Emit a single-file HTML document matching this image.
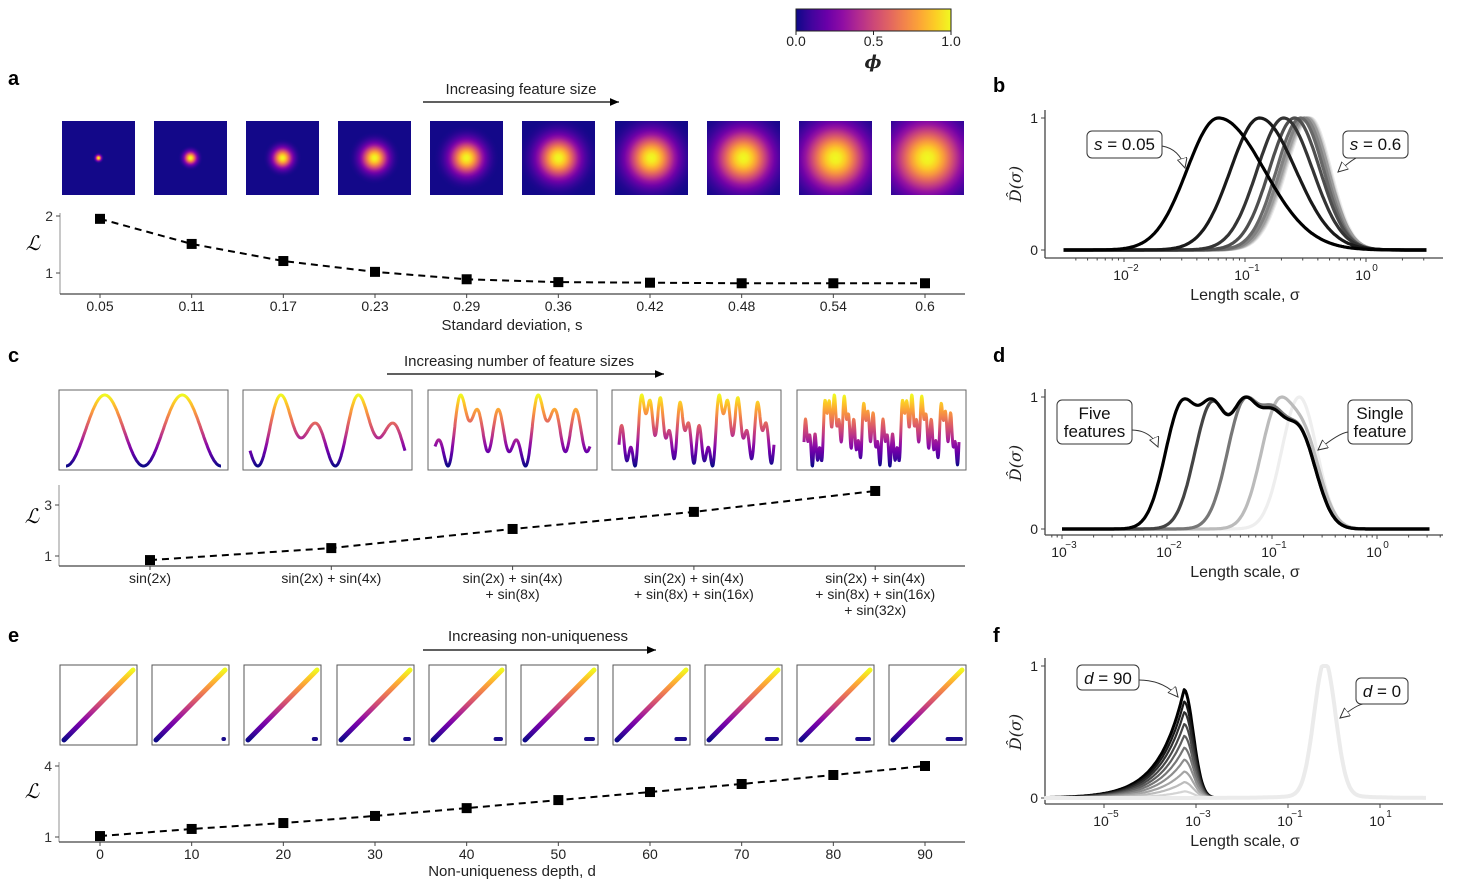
<!DOCTYPE html>
<html><head><meta charset="utf-8"><style>
html,body{margin:0;padding:0;background:#fff;}
svg{display:block;font-family:"Liberation Sans",sans-serif;}
</style></head><body>
<svg id="fig" width="1461" height="889" viewBox="0 0 1461 889" xmlns="http://www.w3.org/2000/svg">
<defs>
<linearGradient id="cbar" x1="0" x2="1" y1="0" y2="0">
<stop offset="0" stop-color="#0d0887"/><stop offset="0.1" stop-color="#41049d"/><stop offset="0.2" stop-color="#6a00a8"/><stop offset="0.3" stop-color="#8f0da4"/><stop offset="0.4" stop-color="#b12a90"/><stop offset="0.5" stop-color="#cc4778"/><stop offset="0.6" stop-color="#e16462"/><stop offset="0.7" stop-color="#f2844b"/><stop offset="0.8" stop-color="#fca636"/><stop offset="0.9" stop-color="#fcce25"/><stop offset="1" stop-color="#f0f921"/>
</linearGradient>
<marker id="arr" markerWidth="8" markerHeight="8" refX="7" refY="3" orient="auto"><path d="M0,0 L7,3 L0,6 z" fill="#000"/></marker>
<marker id="harr" markerWidth="12" markerHeight="12" refX="10" refY="5" orient="auto"><path d="M0,0 L10,5 L0,10 z" fill="#fff" stroke="#333" stroke-width="1"/></marker>
</defs>
<g id="root"></g>
</svg>
<script>
// ---------- data ----------
const aCats = ["0.05","0.11","0.17","0.23","0.29","0.36","0.42","0.48","0.54","0.6"];
const aVals = [1.95,1.51,1.21,1.02,0.89,0.84,0.83,0.82,0.82,0.82];
const aSigma = [0.05,0.11,0.17,0.23,0.29,0.36,0.42,0.48,0.54,0.6];
const aYTicks = [1,2];
const cCats = [["sin(2x)"],["sin(2x) + sin(4x)"],["sin(2x) + sin(4x)","+ sin(8x)"],["sin(2x) + sin(4x)","+ sin(8x) + sin(16x)"],["sin(2x) + sin(4x)","+ sin(8x) + sin(16x)","+ sin(32x)"]];
const cVals = [0.84,1.31,2.06,2.73,3.55];
const cYTicks = [1,3];
const eCats = [0,10,20,30,40,50,60,70,80,90];
const eVals = [1.04,1.34,1.59,1.89,2.22,2.56,2.9,3.24,3.62,4.0];
const eYTicks = [1,4];
// panel b: peak (log10 sigma), left/right widths (decades)
const bPeaks = [-1.22,-0.88,-0.68,-0.59,-0.54,-0.51,-0.49,-0.48,-0.47,-0.46];
const bLeftW = [0.26,0.24,0.22,0.21,0.2,0.2,0.2,0.2,0.2,0.2];
const bRightW = [0.38,0.3,0.24,0.21,0.19,0.18,0.18,0.17,0.17,0.17];
// panel d: component peaks (log10 sigma) and heights per curve, five features first
const dPeaks = [[-1.85,-1.57,-1.26,-1.0,-0.75],[-1.57,-1.26,-1.0,-0.75],[-1.26,-1.0,-0.75],[-0.94,-0.72],[-0.74]];
const dHeights = [[1,0.99,1,0.88,0.78],[1,1,0.88,0.78],[1,0.9,0.78],[1,0.8],[1]];
// panel f: left-peak heights for d = 90..0
const fHeights = [0.82,0.73,0.65,0.56,0.47,0.38,0.29,0.2,0.12,0.05,0];
const fLeftPeak = -3.26, fRightPeak = -0.2;

const NS="http://www.w3.org/2000/svg";
const root=document.getElementById('root');
function mk(tag,attrs,parent){const e=document.createElementNS(NS,tag);for(const k in attrs)e.setAttribute(k,attrs[k]);(parent||root).appendChild(e);return e;}
function nm(e,n,i){


return e;}
function txt(x,y,s,opt,parent){const o=Object.assign({x:x,y:y,'font-size':14,'text-anchor':'middle',fill:'#222'},opt||{});const t=mk('text',o,parent);t.textContent=s;return t;}
const plasma=["#0d0887","#41049d","#6a00a8","#8f0da4","#b12a90","#cc4778","#e16462","#f2844b","#fca636","#fcce25","#f0f921"];
function hex(c){return [parseInt(c.substr(1,2),16),parseInt(c.substr(3,2),16),parseInt(c.substr(5,2),16)];}
function pl(v){v=Math.max(0,Math.min(1,v));const f=v*10,i=Math.min(9,Math.floor(f)),t=f-i;const a=hex(plasma[i]),b=hex(plasma[i+1]);return 'rgb('+a.map((x,k)=>Math.round(x+(b[k]-x)*t)).join(',')+')';}
const defs=document.querySelector('defs');
function vgrad(id,y1,y2){const g=mk('linearGradient',{id:id,x1:0,x2:0,y1:y1,y2:y2,gradientUnits:'userSpaceOnUse'},defs);plasma.forEach((c,i)=>mk('stop',{offset:i/10,'stop-color':c},g));}

// ---------- colorbar ----------
const cb=nm(mk('g',{}),'colorbar');
nm(mk('rect',{x:796,y:9,width:155,height:22,fill:'url(#cbar)',stroke:'#222','stroke-width':1},cb),'colorbar-gradient');
[[0,'0.0'],[0.5,'0.5'],[1,'1.0']].forEach(([v,l])=>{const x=796+155*v;mk('line',{x1:x,x2:x,y1:31,y2:35,stroke:'#222'},cb);nm(txt(x,46,l,{},cb),'colorbar-tick-label');});
nm(txt(873,68,'ϕ',{'font-size':18,'font-style':'italic','font-weight':'bold','font-family':'"DejaVu Serif",serif'},cb),'colorbar-title');

// panel letters
[['a',8,85],['b',993,92],['c',8,362],['d',993,362],['e',8,642],['f',993,642]].forEach(([l,x,y])=>nm(txt(x,y,l,{'font-size':20,'font-weight':'bold','text-anchor':'start',fill:'#000'}),'panel-label-'+l));

function arrowTitle(cx,ty,s,x1,x2,ay,name){const g=nm(mk('g',{}),name);txt(cx,ty,s,{'font-size':15},g);mk('line',{x1:x1,x2:x2,y1:ay,y2:ay,stroke:'#000','stroke-width':1.3,'marker-end':'url(#arr)'},g);}
arrowTitle(521,94,'Increasing feature size',423,619,102,'feature-size-arrow');
arrowTitle(519,366,'Increasing number of feature sizes',387,664,374,'feature-count-arrow');
arrowTitle(538,641,'Increasing non-uniqueness',423,656,650,'non-uniqueness-arrow');

// ---------- panel a images ----------
const aImgX=[62,154,246,338,430,522,615,707,799,891];
aSigma.forEach((s,i)=>{
 const gid='rg'+i;const g=mk('radialGradient',{id:gid,cx:0.5,cy:0.5,r:Math.min(3*s*37/73,3),gradientUnits:'objectBoundingBox'},defs);
 for(let k=0;k<=12;k++){const t=k/12;const v=Math.exp(-(t*3)*(t*3)/2);mk('stop',{offset:t,'stop-color':pl(v)},g);}
 nm(mk('rect',{x:aImgX[i],y:121,width:73,height:74,fill:'url(#'+gid+')'}),'gaussian-image-'+i);
});

// ---------- line-plot helper ----------
function linePlot(o){
 const g=nm(mk('g',{}),o.name);
 const ys=v=>o.y1+(v-o.v1)*(o.y2-o.y1)/(o.v2-o.v1);
 mk('line',{x1:o.ax,x2:o.ax,y1:o.top,y2:o.base,stroke:'#aaa','stroke-width':1.3},g);
 mk('line',{x1:o.ax,x2:o.right,y1:o.base,y2:o.base,stroke:'#444','stroke-width':1.3},g);
 o.yticks.forEach(t=>{const y=ys(t);mk('line',{x1:o.ax-4,x2:o.ax,y1:y,y2:y,stroke:'#444'},g);nm(txt(o.ax-7,y+5,String(t),{'text-anchor':'end',fill:'#333'},g),'y-tick-label');});
 const pts=o.vals.map((v,i)=>[o.xs(i),ys(v)]);
 nm(mk('path',{d:'M'+pts.map(p=>p.join(',')).join(' L'),fill:'none',stroke:'#000','stroke-width':2,'stroke-dasharray':'7,5'},g),'loss-line');
 pts.forEach((p,i)=>{const r=mk('rect',{x:p[0]-5,y:p[1]-5,width:10,height:10,fill:'#000'},g);
 
 });
 o.cats.forEach((c,i)=>{const lines=Array.isArray(c)?c:[String(c)];lines.forEach((l,k)=>nm(txt(o.xs(i),o.base+17+16*k,l,{fill:'#222'},g),'x-tick-label'));mk('line',{x1:o.xs(i),x2:o.xs(i),y1:o.base,y2:o.base+4,stroke:'#444'},g);});
 nm(txt(o.ax-27,o.ly,'ℒ',{'font-size':20,'font-style':'italic','font-family':'"DejaVu Serif",serif',fill:'#000'},g),'y-axis-title');
}
linePlot({name:'loss-plot-a',ax:60,right:965,top:213,base:294,v1:1,y1:273,v2:2,y2:216,yticks:aYTicks,vals:aVals,cats:aCats,xs:i=>100+i*(825/9),ly:250});
nm(txt(512,330,'Standard deviation, s',{'font-size':15}),'x-axis-title-a');
linePlot({name:'loss-plot-c',ax:59,right:965,top:485,base:566,v1:1,y1:556,v2:3,y2:505,yticks:cYTicks,vals:cVals,cats:cCats,xs:i=>150+i*181.3,ly:523});
linePlot({name:'loss-plot-e',ax:59,right:965,top:762,base:842,v1:1,y1:837,v2:4,y2:766,yticks:eYTicks,vals:eVals,cats:eCats,xs:i=>100+i*(825/9),ly:798});
nm(txt(512,876,'Non-uniqueness depth, d',{'font-size':15}),'x-axis-title-e');

// ---------- panel c images ----------
const cImgX=[59,243,428,612,797];
cImgX.forEach((x0,i)=>{
 const g=nm(mk('g',{}),'signal-image-'+i);
 mk('rect',{x:x0,y:390,width:169,height:80,fill:'#fff',stroke:'#666','stroke-width':1},g);
 const n=i+1,N=400;const vals=[];
 for(let k=0;k<=N;k++){const x=-Math.PI/4+2*Math.PI*k/N;let s=0;for(let j=0;j<n;j++)s+=Math.sin(2*Math.pow(2,j)*x);vals.push(s);}
 const mn=Math.min(...vals),mx=Math.max(...vals);
 vgrad('cg'+i,466,395);
 const d=vals.map((v,k)=>(k?'L':'M')+(x0+7+155*k/N).toFixed(1)+','+(466-(v-mn)/(mx-mn)*71).toFixed(1)).join(' ');
 mk('path',{d:d,fill:'none',stroke:'url(#cg'+i+')','stroke-width':3,'stroke-linejoin':'round'},g);
});

// ---------- panel e images ----------
const eImgX=[60,152,244,337,429,521,613,705,797,889];
eImgX.forEach((x0,i)=>{
 const g=nm(mk('g',{}),'scatter-image-'+i);
 mk('rect',{x:x0,y:665,width:77,height:80,fill:'#fff',stroke:'#555','stroke-width':1},g);
 vgrad('eg'+i,740,670);
 mk('line',{x1:x0+4,y1:740,x2:x0+73,y2:670,stroke:'url(#eg'+i+')','stroke-width':5,'stroke-linecap':'round'},g);
 if(i>0){const w=2+i*1.6;mk('rect',{x:x0+73-w,y:737,width:w+1,height:4,rx:2,fill:'#1a0a8a'},g);}
});

// ---------- log plot helper ----------
const grays=n=>Array.from({length:n},(_,i)=>{const v=Math.round(i*235/(n-1));return 'rgb('+v+','+v+','+v+')';});
function logPlot(o){
 const g=nm(mk('g',{}),o.name);
 const xs=l=>o.x0+(l-o.l0)*o.ppd;const ys=v=>o.y0+(o.y1-o.y0)*v;
 mk('line',{x1:o.ax,x2:o.ax,y1:ys(1)-8,y2:o.base,stroke:'#444','stroke-width':1.3},g);
 mk('line',{x1:o.ax,x2:1443,y1:o.base,y2:o.base,stroke:'#444','stroke-width':1.3},g);
 [[0,'0'],[1,'1']].forEach(([v,l])=>{mk('line',{x1:o.ax-4,x2:o.ax,y1:ys(v),y2:ys(v),stroke:'#444'},g);nm(txt(o.ax-7,ys(v)+5,l,{'text-anchor':'end'},g),'y-tick-label');});
 o.major.forEach(e=>{const x=xs(e);mk('line',{x1:x,x2:x,y1:o.base,y2:o.base+4,stroke:'#444'},g);
  nm(txt(x-3,o.base+22,'10',{},g),'x-tick-label');nm(txt(x+9,o.base+13,String(e).replace('-','−'),{'font-size':10},g),'x-tick-exponent');});
 if(o.minor){for(let d=Math.floor(o.lmin);d<o.lmax;d++)for(let m=2;m<10;m++){const l=d+Math.log10(m);if(l<o.lmin||l>o.lmax)continue;const x=xs(l);mk('line',{x1:x,x2:x,y1:o.base,y2:o.base+2.5,stroke:'#444'},g);}}
 nm(txt(1245,o.base+42,'Length scale, σ',{'font-size':16}),'x-axis-title');
 nm(txt(0,0,'D̂(σ)',{'font-size':16,'font-style':'italic','font-family':'"DejaVu Serif",serif',transform:'translate('+(o.ax-24)+','+((ys(0)+ys(1))/2)+') rotate(-90)'}),'y-axis-title');
 return {g:g,xs:xs,ys:ys};
}
function curve(P,fn,lmin,lmax,color,w,name){const N=300;let d='';for(let k=0;k<=N;k++){const l=lmin+(lmax-lmin)*k/N;d+=(k?'L':'M')+P.xs(l).toFixed(1)+','+P.ys(fn(l)).toFixed(1);}
 const p=mk('path',{d:d,fill:'none',stroke:color,'stroke-width':w,'stroke-linejoin':'round'},P.g);
 
 }
function callout(lines,bx,by,bw,bh,ax,ay,sx,sy,name,italic){const g=nm(mk('g',{}),name);
 mk('path',{d:'M'+sx+','+sy+' Q'+((sx+ax)/2+6)+','+((sy+ay)/2-8)+' '+ax+','+ay,fill:'none',stroke:'#333','stroke-width':1,'marker-end':'url(#harr)'},g);
 mk('rect',{x:bx,y:by,width:bw,height:bh,rx:5,fill:'#fff',stroke:'#333','stroke-width':1},g);
 lines.forEach((l,k)=>{const t=mk('text',{x:bx+bw/2,y:by+19+k*18,'font-size':17,'text-anchor':'middle',fill:'#111'},g);
  if(italic){const a=mk('tspan',{'font-style':'italic'},t);a.textContent=l[0];const b=mk('tspan',{},t);b.textContent=l[1];}else t.textContent=l;});}

// panel b
const B=logPlot({name:'panel-b-plot',ax:1045,base:258,x0:1124,l0:-2,ppd:121,y0:250,y1:118,major:[-2,-1,0],minor:true,lmin:-2.5,lmax:0.6});
const gb=grays(10);
for(let i=9;i>=0;i--){const p=bPeaks[i],lw=bLeftW[i],rw=bRightW[i];curve(B,l=>{const w=l<p?lw:rw;return Math.exp(-(l-p)*(l-p)/(2*w*w));},-2.5,0.5,gb[i],3.2,'density-curve-'+i);}
callout([['s',' = 0.05']],1087,131,75,27,1185,168,1162,146,'callout-s-0.05',true);
callout([['s',' = 0.6']],1343,131,65,27,1338,172,1360,157,'callout-s-0.6',true);

// panel d
const D=logPlot({name:'panel-d-plot',ax:1045,base:535,x0:1062,l0:-3,ppd:105,y0:529,y1:397,major:[-3,-2,-1,0],minor:true,lmin:-3.1,lmax:0.65});
const gd=['#000','#444','#777','#bbb','#eee'];
for(let i=4;i>=0;i--){const pk=dPeaks[i],hk=dHeights[i];const sd=0.165;
 const f=l=>Math.sqrt(pk.reduce((s,p,j)=>{const v=hk[j]*Math.exp(-(l-p)*(l-p)/(2*sd*sd));return s+v*v;},0));
 let mx=0;for(let l=-3;l<=0.5;l+=0.005)mx=Math.max(mx,f(l));curve(D,l=>f(l)/mx,-3,0.5,gd[i],3.2,'density-curve-'+i);}
callout(['Five','features'],1057,400,75,44,1158,447,1132,430,'callout-five-features',false);
callout(['Single','feature'],1348,400,64,44,1318,450,1348,432,'callout-single-feature',false);

// panel f
const F=logPlot({name:'panel-f-plot',ax:1045,base:804,x0:1104,l0:-5,ppd:46,y0:798,y1:666,major:[-5,-3,-1,1],minor:false,lmin:-6.3,lmax:2});
const gf=grays(11);
for(let i=0;i<=10;i++){const h=fHeights[i];curve(F,l=>{let a=0;if(l<fLeftPeak){a=h*Math.exp(-(fLeftPeak-l)/0.55);}else{a=h*Math.exp(-Math.pow((l-fLeftPeak)/0.28,2));}
 const r=Math.exp(-Math.pow((l-fRightPeak)/0.33,2))+0.04*Math.exp(-Math.abs(l-fRightPeak)/0.6);return a+Math.min(r,1);},-6.3,2,gf[i],i===10?4:(i===0?3:2.2),'density-curve-'+i);}
callout([['d',' = 90']],1077,665,62,25,1178,697,1139,680,'callout-d-90',true);
callout([['d',' = 0']],1356,678,52,26,1340,718,1365,704,'callout-d-0',true);
</script>
</body></html>
